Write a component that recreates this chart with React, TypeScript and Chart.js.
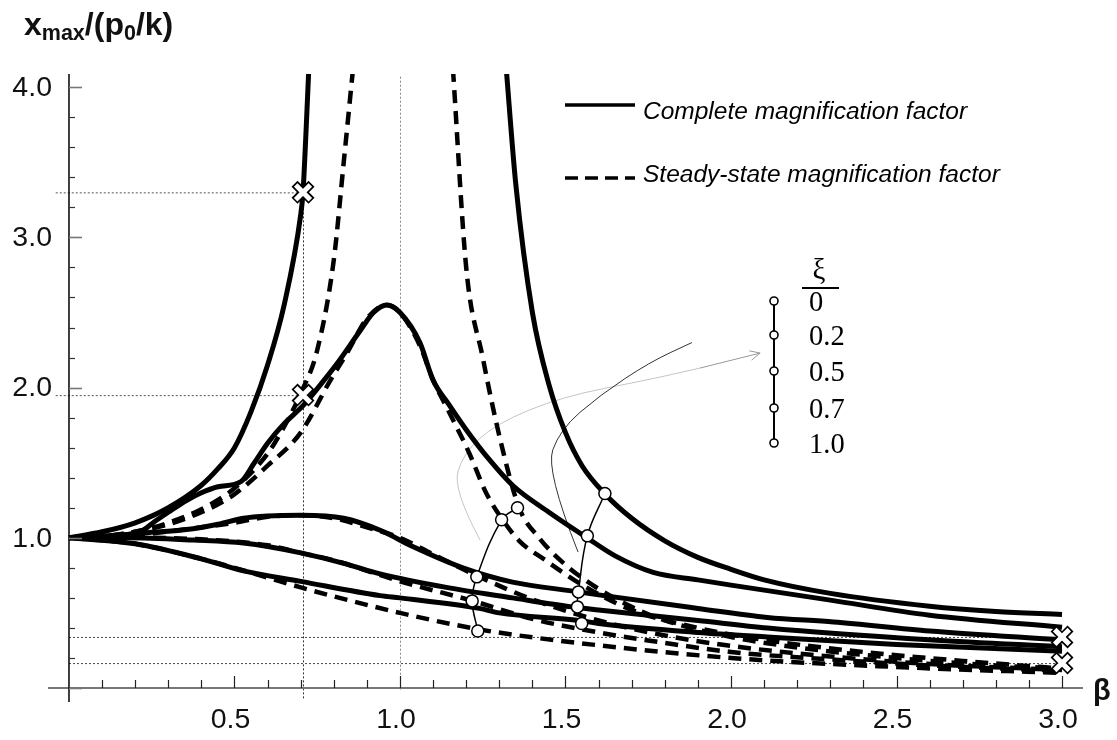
import React, { useEffect, useRef } from 'react';
import { Chart, registerables } from 'chart.js';

Chart.register(...registerables);

// ---------- axis ranges ----------
const X_MIN = -0.0634;
const X_MAX = 3.0634;
const Y_MIN = -0.0932;
const Y_MAX = 4.088;

// ---------- tick labels ----------
const xTickLabels = ['0.5', '1.0', '1.5', '2.0', '2.5', '3.0'];
const yTickLabels = ['1.0', '2.0', '3.0', '4.0'];

// ---------- complete magnification factor (solid) ----------
const c0LeftBeta = [0, 0.1, 0.2, 0.3, 0.4, 0.45, 0.5, 0.55, 0.6, 0.65, 0.7, 0.707, 0.715, 0.725];
const c0LeftVal = [1.0, 1.04, 1.1, 1.2, 1.35, 1.46, 1.6, 1.84, 2.15, 2.55, 3.15, 3.3, 3.65, 4.15];

const c0RightBeta = [1.32, 1.35, 1.4, 1.45, 1.5, 1.55, 1.62, 1.7, 1.8, 1.9, 2.0, 2.1, 2.3, 2.6, 2.8, 3.0];
const c0RightVal = [4.15, 3.35, 2.5, 2.02, 1.7, 1.48, 1.29, 1.13, 0.98, 0.87, 0.79, 0.72, 0.63, 0.545, 0.51, 0.49];

const c02Beta = [0, 0.1, 0.215, 0.26, 0.3, 0.356, 0.4, 0.45, 0.52, 0.56, 0.6, 0.65, 0.707, 0.76, 0.81, 0.88, 0.92, 0.96, 1.0, 1.06, 1.1, 1.15, 1.2, 1.27, 1.34, 1.45, 1.565, 1.65, 1.765, 1.9, 2.0, 2.3, 2.6, 3.0];
const c02Val = [1.0, 1.01, 1.04, 1.11, 1.17, 1.25, 1.3, 1.34, 1.375, 1.5, 1.63, 1.76, 1.88, 2.02, 2.16, 2.38, 2.5, 2.55, 2.5, 2.3, 2.05, 1.88, 1.72, 1.52, 1.35, 1.17, 1.0, 0.88, 0.77, 0.72, 0.685, 0.585, 0.485, 0.405];

const c05Beta = [0, 0.1, 0.215, 0.375, 0.45, 0.527, 0.6, 0.7, 0.83, 0.94, 1.04, 1.19, 1.34, 1.54, 1.6, 1.9, 2.11, 2.31, 2.6, 3.0];
const c05Val = [1.0, 1.01, 1.03, 1.06, 1.09, 1.13, 1.145, 1.15, 1.13, 1.05, 0.94, 0.8, 0.705, 0.64, 0.62, 0.53, 0.47, 0.44, 0.38, 0.32];

const c07Beta = [0, 0.175, 0.375, 0.527, 0.7, 0.83, 0.94, 1.14, 1.34, 1.52, 1.6, 1.9, 2.11, 2.61, 3.0];
const c07Val = [1.0, 1.0, 0.985, 0.965, 0.9, 0.83, 0.76, 0.67, 0.6, 0.54, 0.52, 0.45, 0.4, 0.32, 0.275];

const c10Beta = [0, 0.2, 0.4, 0.527, 0.7, 0.94, 1.0, 1.24, 1.3, 1.54, 1.6, 1.9, 2.11, 2.5, 3.0];
const c10Val = [1.0, 0.96, 0.86, 0.78, 0.71, 0.615, 0.6, 0.53, 0.5, 0.45, 0.43, 0.37, 0.34, 0.29, 0.245];

// ---------- steady-state magnification factor (dashed) ----------
const s0LeftBeta = [0, 0.1, 0.2, 0.3, 0.4, 0.5, 0.6, 0.65, 0.7, 0.75, 0.8, 0.83, 0.858];
const s0LeftVal = [1.0, 1.01, 1.04, 1.1, 1.19, 1.33, 1.56, 1.74, 1.96, 2.25, 2.85, 3.5, 4.12];

const s0RightBeta = [1.16, 1.2, 1.25, 1.3, 1.36, 1.42, 1.5, 1.6, 1.7, 1.8, 2.0, 2.2, 2.5, 2.8, 3.0];
const s0RightVal = [4.12, 2.8, 2.2, 1.68, 1.2, 1.0, 0.82, 0.66, 0.54, 0.45, 0.34, 0.27, 0.2, 0.15, 0.13];

const s02Beta = [0, 0.1, 0.2, 0.3, 0.4, 0.456, 0.5, 0.6, 0.7, 0.79, 0.84, 0.9, 0.96, 1.0, 1.06, 1.1, 1.15, 1.21, 1.26, 1.31, 1.36, 1.44, 1.54, 1.7, 1.9, 2.1, 2.4, 2.7, 3.0];
const s02Val = [1.0, 1.01, 1.04, 1.09, 1.17, 1.23, 1.29, 1.48, 1.7, 2.05, 2.23, 2.46, 2.55, 2.5, 2.28, 2.05, 1.83, 1.56, 1.3, 1.12, 0.98, 0.85, 0.7, 0.52, 0.4, 0.32, 0.24, 0.18, 0.13];

const s05Beta = [0, 0.2, 0.4, 0.5, 0.6, 0.7, 0.8, 0.9, 1.0, 1.1, 1.23, 1.4, 1.6, 1.8, 2.0, 2.3, 2.6, 3.0];
const s05Val = [1.0, 1.02, 1.07, 1.1, 1.14, 1.15, 1.13, 1.07, 1.0, 0.89, 0.75, 0.59, 0.45, 0.35, 0.28, 0.21, 0.16, 0.12];

const s07Beta = [0, 0.2, 0.4, 0.6, 0.7, 0.8, 1.0, 1.22, 1.4, 1.6, 1.8, 2.0, 2.3, 2.6, 3.0];
const s07Val = [1.0, 1.0, 0.99, 0.95, 0.9, 0.85, 0.71, 0.58, 0.46, 0.37, 0.3, 0.24, 0.19, 0.15, 0.115];

const s10Beta = [0, 0.2, 0.4, 0.5, 0.6, 0.7, 0.8, 1.0, 1.24, 1.5, 2.0, 2.5, 3.0];
const s10Val = [1.0, 0.96, 0.86, 0.8, 0.735, 0.67, 0.61, 0.5, 0.39, 0.31, 0.2, 0.14, 0.1];

// ---------- circle markers (ξ groups) ----------
const steadyMarkBeta = [1.235, 1.218, 1.232, 1.307, 1.355];
const steadyMarkVal = [0.38, 0.58, 0.74, 1.12, 1.2];
const completeMarkBeta = [1.549, 1.536, 1.539, 1.566, 1.619];
const completeMarkVal = [0.43, 0.54, 0.64, 1.013, 1.295];

// ---------- cross markers & reference lines ----------
const crossBeta = [0.707, 0.707, 3.0, 3.0];
const crossVal = [3.3, 1.95, 0.34, 0.166];

// ---------- legend ----------
const xiLabels = ['0', '0.2', '0.5', '0.7', '1.0'];
const legendLabels = ['Complete magnification factor', 'Steady-state magnification factor'];

// ---------- annotation arrows (data coordinates) ----------
const lightArrowBeta = [1.242, 1.16, 1.19, 1.29, 1.49, 1.746, 1.906];
const lightArrowVal = [0.985, 1.32, 1.56, 1.76, 1.94, 2.05, 2.13];
const darkArrowBeta = [1.538, 1.44, 1.483, 1.604, 1.755, 1.882];
const darkArrowVal = [0.905, 1.45, 1.72, 1.95, 2.17, 2.3];
const arrowTip = [2.088, 2.23];

const pts = (bx: number[], by: number[]) => bx.map((b, i) => ({ x: b, y: by[i] }));

const solid = (bx: number[], by: number[]) => ({
  data: pts(bx, by),
  borderColor: '#000',
  borderWidth: 5,
  pointRadius: 0,
  cubicInterpolationMode: 'monotone' as const,
  fill: false,
  order: 2,
});
const dashed = (bx: number[], by: number[]) => ({
  data: pts(bx, by),
  borderColor: '#000',
  borderWidth: 4.5,
  borderDash: [13, 8],
  pointRadius: 0,
  cubicInterpolationMode: 'monotone' as const,
  fill: false,
  order: 3,
});
const markers = (bx: number[], by: number[]) => ({
  data: pts(bx, by),
  borderColor: '#000',
  borderWidth: 1.5,
  pointRadius: 6,
  pointBorderWidth: 1.5,
  pointBackgroundColor: '#fff',
  pointBorderColor: '#000',
  tension: 0.4,
  fill: false,
  order: 0,
});

function smoothPath(ctx: CanvasRenderingContext2D, p: number[][]) {
  ctx.moveTo(p[0][0], p[0][1]);
  for (let i = 1; i < p.length - 1; i++) {
    const mx = (p[i][0] + p[i + 1][0]) / 2;
    const my = (p[i][1] + p[i + 1][1]) / 2;
    ctx.quadraticCurveTo(p[i][0], p[i][1], mx, my);
  }
  const l = p[p.length - 1];
  ctx.lineTo(l[0], l[1]);
}

const decorPlugin = {
  id: 'decor',
  beforeDatasetsDraw(chart: any) {
    const { ctx } = chart;
    const xs = chart.scales.x;
    const ys = chart.scales.y;
    const X = (v: number) => xs.getPixelForValue(v);
    const Y = (v: number) => ys.getPixelForValue(v);
    ctx.save();
    ctx.lineWidth = 1;
    ctx.setLineDash([2, 2]);
    // vertical at β = 1/√2
    ctx.strokeStyle = '#333';
    ctx.beginPath();
    ctx.moveTo(X(crossBeta[0]) + 0.5, Y(crossVal[0]));
    ctx.lineTo(X(crossBeta[0]) + 0.5, Y(-0.08));
    ctx.stroke();
    // vertical at β = 1
    ctx.strokeStyle = '#888';
    ctx.beginPath();
    ctx.moveTo(X(1.0) + 0.5, Y(4.07));
    ctx.lineTo(X(1.0) + 0.5, Y(-0.01));
    ctx.stroke();
    // horizontal guides
    ctx.strokeStyle = '#555';
    [0, 1].forEach((i) => {
      ctx.beginPath();
      ctx.moveTo(X(-0.04), Y(crossVal[i]) + 0.5);
      ctx.lineTo(X(crossBeta[i]), Y(crossVal[i]) + 0.5);
      ctx.stroke();
    });
    ctx.strokeStyle = '#444';
    [2, 3].forEach((i) => {
      ctx.beginPath();
      ctx.moveTo(X(0), Y(crossVal[i]) + 0.5);
      ctx.lineTo(X(crossBeta[i]), Y(crossVal[i]) + 0.5);
      ctx.stroke();
    });
    ctx.setLineDash([]);

    // annotation arrows
    ctx.lineWidth = 1;
    ctx.strokeStyle = '#c4c4c4';
    ctx.beginPath();
    smoothPath(ctx, lightArrowBeta.map((b, i) => [X(b), Y(lightArrowVal[i])]));
    ctx.stroke();
    ctx.strokeStyle = '#333';
    ctx.beginPath();
    smoothPath(ctx, darkArrowBeta.map((b, i) => [X(b), Y(darkArrowVal[i])]));
    ctx.stroke();
    ctx.strokeStyle = '#999';
    const sx = X(lightArrowBeta[lightArrowBeta.length - 1]);
    const sy = Y(lightArrowVal[lightArrowVal.length - 1]);
    const tx = X(arrowTip[0]);
    const ty = Y(arrowTip[1]);
    ctx.beginPath();
    ctx.moveTo(sx, sy);
    ctx.lineTo(tx, ty);
    const ang = Math.atan2(ty - sy, tx - sx);
    ctx.moveTo(tx - 11 * Math.cos(ang - 0.45), ty - 11 * Math.sin(ang - 0.45));
    ctx.lineTo(tx, ty);
    ctx.lineTo(tx - 11 * Math.cos(ang + 0.45), ty - 11 * Math.sin(ang + 0.45));
    ctx.stroke();
    ctx.restore();
  },
  afterDatasetsDraw(chart: any) {
    const { ctx } = chart;
    const xs = chart.scales.x;
    const ys = chart.scales.y;
    const X = (v: number) => xs.getPixelForValue(v);
    const Y = (v: number) => ys.getPixelForValue(v);
    ctx.save();

    // ---- axes ----
    const x0 = X(0);
    const y0 = Y(0);
    ctx.strokeStyle = '#777';
    ctx.lineWidth = 2;
    ctx.beginPath();
    ctx.moveTo(X(X_MIN), y0);
    ctx.lineTo(X(X_MAX), y0);
    ctx.stroke();
    ctx.strokeStyle = '#000';
    ctx.lineWidth = 1.5;
    ctx.beginPath();
    ctx.moveTo(x0, Y(Y_MAX));
    ctx.lineTo(x0, Y(Y_MIN));
    ctx.stroke();

    // x ticks
    ctx.lineWidth = 1.2;
    ctx.strokeStyle = '#222';
    for (let i = 1; i <= 30; i++) {
      const px = Math.round(X(i / 10)) + 0.5;
      const len = i % 5 === 0 ? 12 : 8;
      ctx.beginPath();
      ctx.moveTo(px, y0);
      ctx.lineTo(px, y0 - len);
      ctx.stroke();
    }
    // y ticks
    for (let i = 0; i <= 20; i++) {
      const py = Math.round(Y(i / 5)) + 0.5;
      const major = i % 5 === 0;
      ctx.strokeStyle = major ? '#777' : '#333';
      ctx.lineWidth = major ? 1.6 : 1.2;
      ctx.beginPath();
      ctx.moveTo(x0, py);
      ctx.lineTo(x0 + (major ? 13 : 6), py);
      ctx.stroke();
    }

    // tick labels
    ctx.fillStyle = '#111';
    ctx.font = '28.5px "Liberation Sans", Arial, sans-serif';
    ctx.textAlign = 'center';
    ctx.textBaseline = 'top';
    xTickLabels.forEach((t) => {
      ctx.fillText(t, X(parseFloat(t)) - 4, y0 + 18);
    });
    ctx.textAlign = 'right';
    ctx.textBaseline = 'middle';
    yTickLabels.forEach((t) => {
      ctx.fillText(t, x0 - 17, Y(parseFloat(t)) + 1);
    });

    // axis titles
    ctx.textAlign = 'left';
    ctx.textBaseline = 'alphabetic';
    let cx = 24;
    const big = 'bold 32px "Liberation Sans", Arial, sans-serif';
    const sub = 'bold 21.5px "Liberation Sans", Arial, sans-serif';
    const parts: [string, boolean][] = [['x', false], ['max', true], ['/(p', false], ['0', true], ['/k)', false]];
    parts.forEach(([s, isSub]) => {
      ctx.font = isSub ? sub : big;
      ctx.fillText(s, cx, isSub ? 40 : 35);
      cx += ctx.measureText(s).width;
    });
    ctx.font = 'bold 29px "Liberation Sans", Arial, sans-serif';
    ctx.fillText('β', 1093, 700);

    // ---- cross markers ----
    crossBeta.forEach((b, i) => {
      const px = X(b);
      const py = Y(crossVal[i]);
      const a = 8.5;
      ctx.lineCap = 'butt';
      ctx.strokeStyle = '#000';
      ctx.lineWidth = 8.5;
      ctx.beginPath();
      ctx.moveTo(px - a, py - a); ctx.lineTo(px + a, py + a);
      ctx.moveTo(px + a, py - a); ctx.lineTo(px - a, py + a);
      ctx.stroke();
      ctx.strokeStyle = '#fff';
      ctx.lineWidth = 5;
      ctx.beginPath();
      ctx.moveTo(px - a + 1.2, py - a + 1.2); ctx.lineTo(px + a - 1.2, py + a - 1.2);
      ctx.moveTo(px + a - 1.2, py - a + 1.2); ctx.lineTo(px - a + 1.2, py + a - 1.2);
      ctx.stroke();
    });

    // ---- main legend ----
    const lx0 = 565;
    const lx1 = 635;
    ctx.strokeStyle = '#000';
    ctx.lineWidth = 3.5;
    ctx.beginPath();
    ctx.moveTo(lx0, 105);
    ctx.lineTo(lx1, 105);
    ctx.stroke();
    ctx.setLineDash([13, 7]);
    ctx.beginPath();
    ctx.moveTo(lx0, 178);
    ctx.lineTo(lx1, 178);
    ctx.stroke();
    ctx.setLineDash([]);
    ctx.fillStyle = '#000';
    ctx.font = 'italic 24.5px "Liberation Sans", Arial, sans-serif';
    ctx.fillText(legendLabels[0], 643, 119);
    ctx.fillText(legendLabels[1], 643, 182);

    // ---- ξ legend ----
    const circX = 774;
    const circY = [301, 335, 371, 408, 443];
    ctx.font = '29px "Liberation Serif", "Times New Roman", serif';
    ctx.textAlign = 'center';
    ctx.fillText('ξ', 819, 279);
    ctx.lineWidth = 2;
    ctx.beginPath();
    ctx.moveTo(802, 288);
    ctx.lineTo(839, 288);
    ctx.stroke();
    ctx.beginPath();
    ctx.moveTo(circX, circY[0]);
    ctx.lineTo(circX, circY[4]);
    ctx.stroke();
    ctx.textAlign = 'left';
    ctx.textBaseline = 'middle';
    ctx.font = '28.5px "Liberation Serif", "Times New Roman", serif';
    circY.forEach((cy, i) => {
      ctx.beginPath();
      ctx.arc(circX, cy, 4, 0, Math.PI * 2);
      ctx.fillStyle = '#fff';
      ctx.fill();
      ctx.lineWidth = 1.6;
      ctx.strokeStyle = '#000';
      ctx.stroke();
      ctx.fillStyle = '#000';
      ctx.fillText(xiLabels[i], 809, cy + 3);
    });
    ctx.restore();
  },
};

export default function App() {
  const ref = useRef<HTMLCanvasElement | null>(null);
  useEffect(() => {
    if (!ref.current) return;
    const chart = new Chart(ref.current, {
      type: 'line',
      data: {
        datasets: [
          markers(steadyMarkBeta, steadyMarkVal),
          markers(completeMarkBeta, completeMarkVal),
          solid(c0LeftBeta, c0LeftVal),
          solid(c0RightBeta, c0RightVal),
          solid(c02Beta, c02Val),
          solid(c05Beta, c05Val),
          solid(c07Beta, c07Val),
          solid(c10Beta, c10Val),
          dashed(s0LeftBeta, s0LeftVal),
          dashed(s0RightBeta, s0RightVal),
          dashed(s02Beta, s02Val),
          dashed(s05Beta, s05Val),
          dashed(s07Beta, s07Val),
          dashed(s10Beta, s10Val),
        ] as any,
      },
      options: {
        animation: false,
        responsive: false,
        maintainAspectRatio: false,
        parsing: false as any,
        layout: { padding: { left: 48, right: 34, top: 74, bottom: 38 } },
        plugins: { legend: { display: false }, tooltip: { enabled: false } },
        scales: {
          x: { type: 'linear', min: X_MIN, max: X_MAX, display: false },
          y: { type: 'linear', min: Y_MIN, max: Y_MAX, display: false },
        },
      },
      plugins: [decorPlugin],
    });
    return () => chart.destroy();
  }, []);
  return (
    <div style={{ position: 'fixed', left: 0, top: 0, width: 1117, height: 740, background: '#fff' }}>
      <canvas ref={ref} width={1117} height={740} style={{ width: 1117, height: 740, display: 'block' }} />
    </div>
  );
}
